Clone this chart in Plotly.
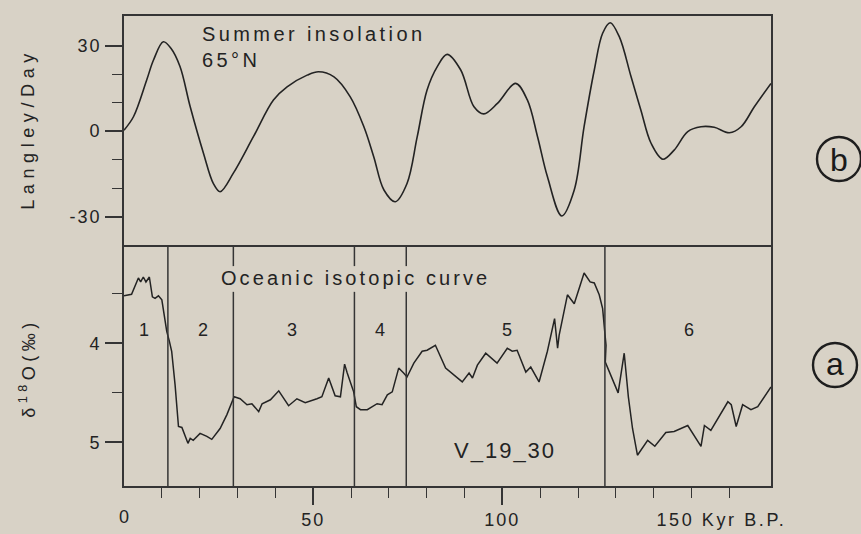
import plotly.graph_objects as go

# ---- Summer insolation anomaly at 65°N (langley/day) vs age (kyr B.P.)
insol_age = [0, 2.5, 6, 7.8, 10.4, 12.4, 14.8, 17.5, 21, 23.6, 25.4, 28.9, 34.2, 39.5,
             43.1, 48.4, 51.4, 55.5, 59.8, 63.4, 66, 68.7, 71.7, 74.8, 77.5, 80.1,
             82.8, 85.4, 89, 92.5, 95.1, 98.7, 103.5, 106.6, 109.3, 111.9, 115.7,
             119, 121.6, 124.3, 126.5, 128.5, 130.9, 134, 136.6, 139.3, 142.4,
             145.4, 149, 152.5, 156, 160, 163.1, 166.6, 171]
insol_val = [0.3, 5, 17.9, 24.9, 31.3, 29, 22.6, 8.5, -7.8, -18.4, -21.3, -14.8, -2, 10.9,
             15.5, 19.6, 20.8, 19, 12, 1.5, -9, -20.7, -24.8, -18.4, -2, 14.4,
             22.6, 26.9, 21.4, 8.5, 6, 9.7, 16.7, 10.9, -2, -16, -29.8,
             -20.7, 1.5, 21.4, 34.3, 38, 33.1, 19.1, 7.4, -4.3, -9.9,
             -6.7, -0.2, 1.5, 1.3, -0.6, 1.5, 8.5, 16.7]

# ---- Oceanic isotopic curve, core V19-30 (delta 18O, per mil)
iso_age = [0, 2, 3.8, 4.4, 5.1, 5.8, 6.7, 7.5, 8.2, 9.1, 10, 10.6, 11.3, 12, 12.6, 13.5,
           14.4, 15.3, 16.1, 16.9, 17.5, 18.3, 20.1, 21.9, 23.2, 25.4, 27.2, 29.1,
           30.7, 32.5, 33.8, 35.6, 36.5, 38.7, 40.9, 43.5, 45.7, 47.9, 51, 52.3,
           54.1, 55.8, 57.2, 58.3, 59, 60.7, 61.4, 62.5, 64.3, 66.9, 68.2, 69.6,
           70.9, 72.6, 73.9, 74.8, 76.6, 78.8, 80.1, 82.3, 85, 87.2, 89.4, 91.2,
           92.1, 93.4, 95.6, 98.6, 101.3, 102.6, 103.9, 106.2, 107.5, 109.7,
           111.9, 113.8, 114.6, 115, 117.2, 119, 121.6, 123.2, 124.3, 125.6,
           126.5, 127.1, 127.4, 127.2, 130.6, 132.2, 133.3, 134.4, 135.7, 138.4,
           140.3, 143.2, 145.4, 149, 152.5, 153.4, 155.1, 159.6, 160.5, 161.8,
           163.5, 165.7, 167.5, 171]
iso_val = [3.52, 3.505, 3.34, 3.38, 3.33, 3.38, 3.33, 3.53, 3.545, 3.52, 3.56, 3.71, 3.88,
           3.98, 4.08, 4.42, 4.84, 4.85, 4.94, 5.01, 4.96, 4.98, 4.91, 4.94, 4.97,
           4.86, 4.72, 4.54, 4.56, 4.62, 4.61, 4.69, 4.61, 4.57, 4.48, 4.63, 4.56,
           4.6, 4.56, 4.54, 4.35, 4.53, 4.54, 4.21, 4.30, 4.49, 4.64, 4.67, 4.67,
           4.61, 4.62, 4.52, 4.49, 4.25, 4.3, 4.34, 4.2, 4.08, 4.07, 4.02, 4.25,
           4.32, 4.39, 4.3, 4.35, 4.22, 4.1, 4.2, 4.05, 4.08, 4.07, 4.29, 4.24,
           4.39, 4.08, 3.75, 4.05, 3.92, 3.51, 3.6, 3.29, 3.38, 3.39, 3.51, 3.65,
           3.9, 4.02, 4.19, 4.5, 4.1, 4.54, 4.86, 5.13, 4.98, 5.04, 4.9, 4.89,
           4.83, 5.04, 4.83, 4.88, 4.59, 4.62, 4.84, 4.62, 4.67, 4.64, 4.44]

# isotope stage boundaries and labels
stage_bounds = [11.6, 28.9, 60.9, 74.6, 127.1]
stage_names = ["1", "2", "3", "4", "5", "6"]
stage_label_age = [5.2, 21, 44.4, 67.6, 101.3, 149.4]

# axis ticks
x_major = [50, 100]
x_major_text = ["50", "100"]
x_minor = [10, 20, 30, 40, 60, 70, 80, 90, 110, 120, 130, 140, 150, 160]
insol_major = [-30, 0, 30]
insol_major_text = ["-30", "0", "30"]
insol_minor = [-20, -10, 10, 20]
iso_major = [4, 5]
iso_major_text = ["4", "5"]
iso_minor = [3.5, 4.5]

# ---- geometry
W, H = 861, 534
ML, MR, MT, MB = 124, 90, 16, 48
PW, PH = W - ML - MR, H - MT - MB
SPLIT = (H - MB - 247) / PH          # panel boundary in paper units
X_RANGE = [0, 171]
INSOL_RANGE = [-40.7, 40.35]
ISO_RANGE = [5.441, 3.027]            # reversed: lighter values upward


def px_x(px):
    return (px - ML) / PW


def px_y(py):
    return (H - MB - py) / PH


BG = "#d8d2c6"
INK = "#232323"
LINE = "#353535"
FONT = "Liberation Sans, Arial, sans-serif"

fig = go.Figure()
fig.add_trace(go.Scatter(x=insol_age, y=insol_val, mode="lines",
                         line=dict(color=INK, width=1.6, shape="spline", smoothing=1.0),
                         xaxis="x2", yaxis="y2", hoverinfo="skip"))
fig.add_trace(go.Scatter(x=iso_age, y=iso_val, mode="lines",
                         line=dict(color=INK, width=1.5),
                         xaxis="x", yaxis="y", hoverinfo="skip"))

axis_common = dict(showgrid=False, zeroline=False, showline=True, mirror=True,
                   linecolor=LINE, linewidth=1.6, automargin=False)
tickfont = dict(family=FONT, size=18, color=INK)

fig.update_layout(
    width=W, height=H,
    margin=dict(l=ML, r=MR, t=MT, b=MB, autoexpand=False),
    paper_bgcolor=BG, plot_bgcolor=BG,
    showlegend=False,
    xaxis=dict(axis_common, range=X_RANGE, anchor="y",
               tickmode="array", tickvals=x_major, ticktext=x_major_text,
               ticks="outside", ticklen=17, tickwidth=1.6, tickcolor=LINE,
               tickfont=tickfont,
               minor=dict(tickmode="array", tickvals=x_minor, ticks="outside",
                          ticklen=10, tickwidth=1.4, tickcolor=LINE)),
    # upper panel: only its top edge, the shared edge comes from the lower panel
    xaxis2=dict(axis_common, range=X_RANGE, anchor="y2", matches="x",
                mirror=False, side="top", showticklabels=False, ticks=""),
    yaxis=dict(axis_common, domain=[0, SPLIT], range=ISO_RANGE, anchor="x",
               tickmode="array", tickvals=iso_major, ticktext=iso_major_text,
               ticks="outside", ticklen=17, tickwidth=1.6, tickcolor=LINE,
               tickfont=tickfont,
               minor=dict(tickmode="array", tickvals=iso_minor, ticks="outside",
                          ticklen=10, tickwidth=1.4, tickcolor=LINE)),
    yaxis2=dict(axis_common, domain=[SPLIT, 1], range=INSOL_RANGE, anchor="x2",
                tickmode="array", tickvals=insol_major, ticktext=insol_major_text,
                ticks="outside", ticklen=17, tickwidth=1.6, tickcolor=LINE,
                tickfont=tickfont,
                minor=dict(tickmode="array", tickvals=insol_minor, ticks="outside",
                           ticklen=10, tickwidth=1.4, tickcolor=LINE)),
)

# stage boundaries; the middle ones break around the curve title
GAP_TOP, GAP_BOTTOM = 3.22, 3.48
for i, xb in enumerate(stage_bounds):
    if 0 < i < 4:
        segs = [(ISO_RANGE[0], GAP_BOTTOM), (GAP_TOP, ISO_RANGE[1])]
    else:
        segs = [(ISO_RANGE[0], ISO_RANGE[1])]
    for y0, y1 in segs:
        fig.add_shape(type="line", xref="x", yref="y", x0=xb, x1=xb, y0=y0, y1=y1,
                      line=dict(color=LINE, width=1.5))

# panel tags (circled letters)
for cx, cy in [(839, 159), (835, 365)]:
    r = 22
    fig.add_shape(type="circle", xref="paper", yref="paper",
                  x0=px_x(cx - r), x1=px_x(cx + r), y0=px_y(cy + r), y1=px_y(cy - r),
                  line=dict(color="#1e1e1e", width=2.4))

ann = []
# 0: upper panel title
ann.append(dict(text="Summer insolation<br>65°N", xref="x2", yref="y2",
                x=20.0, y=29.5, xanchor="left", yanchor="middle", align="left",
                font=dict(family=FONT, size=20, color=INK)))
# 1: lower panel title
ann.append(dict(text="Oceanic isotopic curve", xref="x", yref="y",
                x=61.2, y=3.34, xanchor="center", yanchor="middle",
                font=dict(family=FONT, size=20, color=INK)))
# 2-7: stage numbers
for lab, xa in zip(stage_names, stage_label_age):
    ann.append(dict(text=lab, xref="x", yref="y", x=xa, y=3.866,
                    xanchor="center", yanchor="middle",
                    font=dict(family=FONT, size=18, color=INK)))
# 8: core name
ann.append(dict(text="V_19_30", xref="x", yref="y", x=100.8, y=5.08,
                xanchor="center", yanchor="middle",
                font=dict(family=FONT, size=22, color=INK)))
# 9, 10: axis titles
ann.append(dict(text="Langley/Day", xref="paper", yref="paper",
                x=px_x(28), y=px_y(129), textangle=-90,
                xanchor="center", yanchor="middle",
                font=dict(family=FONT, size=18, color=INK)))
ann.append(dict(text="δ<sup>18</sup>O(‰)", xref="paper", yref="paper",
                x=px_x(27), y=px_y(368), textangle=-90,
                xanchor="center", yanchor="middle",
                font=dict(family=FONT, size=18, color=INK)))
# 11, 12: outer x labels
ann.append(dict(text="0", xref="x", yref="paper", x=0, y=px_y(517),
                xanchor="center", yanchor="middle",
                font=dict(family=FONT, size=18, color=INK)))
ann.append(dict(text="150 Kyr B.P.", xref="x", yref="paper", x=144.3, y=px_y(520),
                xanchor="left", yanchor="middle",
                font=dict(family=FONT, size=18, color=INK)))
# 13, 14: panel tags
ann.append(dict(text="b", xref="paper", yref="paper", x=px_x(839), y=px_y(160),
                xanchor="center", yanchor="middle",
                font=dict(family=FONT, size=32, color="#1a1a1a")))
ann.append(dict(text="a", xref="paper", yref="paper", x=px_x(835), y=px_y(364),
                xanchor="center", yanchor="middle",
                font=dict(family=FONT, size=32, color="#1a1a1a")))

for a in ann:
    a.setdefault("showarrow", False)
fig.update_layout(annotations=ann)

# wide letter spacing of the typeset labels
spacing = {0: 3.4, 1: 3.1, 8: 2, 9: 5.6, 10: 4.5, 11: 0, 12: 2.6}
css = "".join('.annotation[data-index="%d"] text{letter-spacing:%spx}' % (k, v)
              for k, v in spacing.items())
css += ".xtick text,.ytick text,.y2tick text{letter-spacing:2px}"
js = ("var s=document.createElement('style');s.textContent='%s';"
      "document.head.appendChild(s);" % css)

fig.write_html("out.html", post_script=js)
